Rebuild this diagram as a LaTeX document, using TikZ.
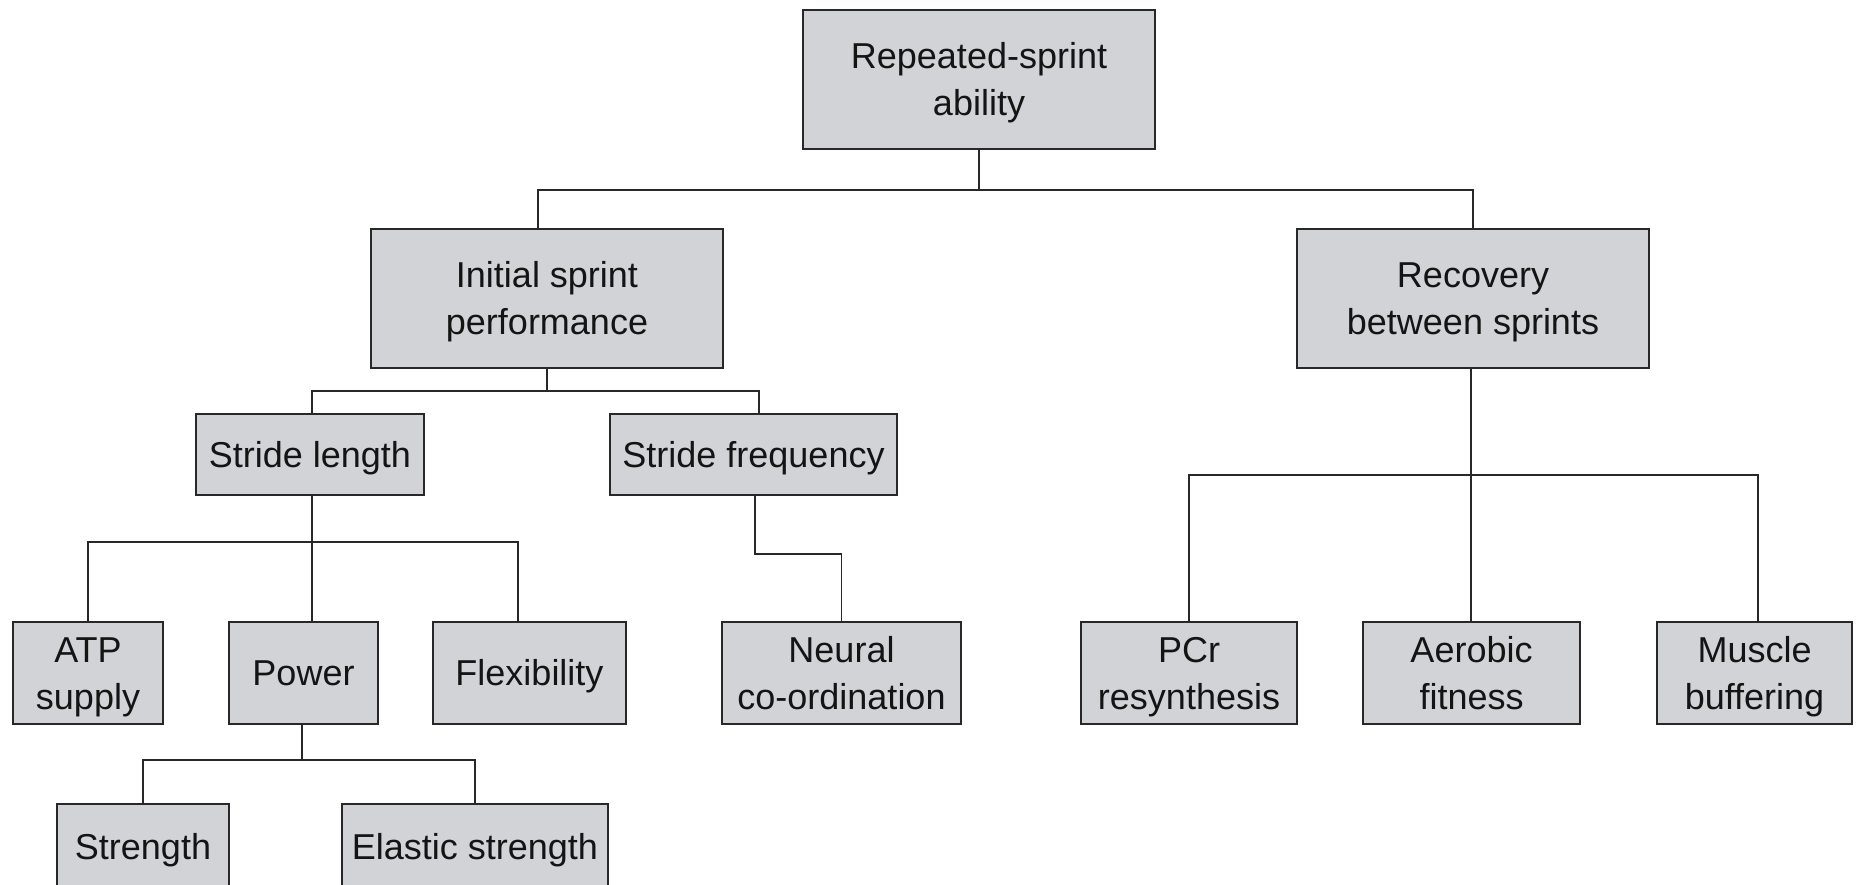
\documentclass[tikz,border=0pt]{standalone}
\usepackage{fontspec}
\setmainfont{Liberation Sans}
\usetikzlibrary{calc}
\definecolor{boxfill}{RGB}{210,211,214}
\definecolor{boxline}{RGB}{40,40,40}
\definecolor{txt}{RGB}{20,20,20}
\newcommand\tpstrut{\rule{0pt}{16.8pt}}
\newcommand\btstrut{\rule[-3.9pt]{0pt}{3.9pt}}
\begin{document}
\begin{tikzpicture}[x=0.5pt,y=-0.5pt,
  bx/.style={draw=boxline,fill=boxfill,line width=1.2pt,inner sep=0pt,outer sep=0pt,
    align=center,text=txt,font=\fontsize{18pt}{23.5pt}\selectfont},
  conn/.style={draw=boxline,line width=0.85pt}]
\useasboundingbox (0,0) rectangle (1856,884);
\clip (0,0) rectangle (1856,884);
\node[bx,minimum width=176pt,minimum height=69.5pt] (top) at (979,79.5) {\tpstrut Repeated-sprint\\ability\btstrut};
\node[bx,minimum width=176pt,minimum height=69.5pt] (ini) at (547,298.5) {\tpstrut Initial sprint\\performance\btstrut};
\node[bx,minimum width=176pt,minimum height=69.5pt] (rec) at (1473,298.5) {\tpstrut Recovery\\between sprints\btstrut};
\node[bx,minimum width=114pt,minimum height=40.5pt] (sl) at (310,454.5) {\tpstrut Stride length\btstrut};
\node[bx,minimum width=143.5pt,minimum height=40.5pt] (sf) at (753.5,454.5) {\tpstrut Stride frequency\btstrut};
\node[bx,minimum width=75pt,minimum height=51pt] (atp) at (88,673) {\tpstrut ATP\\supply\btstrut};
\node[bx,minimum width=74.5pt,minimum height=51pt] (pow) at (303.5,673) {\tpstrut Power\btstrut};
\node[bx,minimum width=96.5pt,minimum height=51pt] (flex) at (529.5,673) {\tpstrut Flexibility\btstrut};
\node[bx,minimum width=119.5pt,minimum height=51pt] (neu) at (841.5,673) {\tpstrut Neural\\co-ordination\btstrut};
\node[bx,minimum width=108pt,minimum height=51pt] (pcr) at (1189,673) {\tpstrut PCr\\resynthesis\btstrut};
\node[bx,minimum width=108.5pt,minimum height=51pt] (aer) at (1471.5,673) {\tpstrut Aerobic\\fitness\btstrut};
\node[bx,minimum width=97.5pt,minimum height=51pt] (mus) at (1754.5,673) {\tpstrut Muscle\\buffering\btstrut};
\node[bx,minimum width=86pt,minimum height=42.5pt] (str) at (143,846.5) {\tpstrut Strength\btstrut};
\node[bx,minimum width=133pt,minimum height=42.5pt] (ela) at (475,846.5) {\tpstrut Elastic strength\btstrut};
\coordinate (L1) at (0,190);
\coordinate (L2) at (0,391);
\coordinate (L3) at (0,542);
\coordinate (L4) at (0,554);
\coordinate (L5) at (0,475);
\coordinate (L6) at (0,760);
% level 1
\draw[conn] (top.south) -- (top.south |- L1);
\draw[conn] ([xshift=-4.5pt]ini.north) |- (top.south |- L1) -| (rec.north);
% initial sprint
\draw[conn] (ini.south) -- (ini.south |- L2);
\draw[conn] ([xshift=1pt]sl.north) |- (ini.south |- L2) -| ([xshift=2.75pt]sf.north);
% stride length
\draw[conn] ([xshift=1pt]sl.south) -- ([xshift=1pt]sl.south |- pow.north);
\draw[conn] (atp.north) |- ([xshift=1pt]sl.south |- L3) -| ([xshift=-5.75pt]flex.north);
% stride frequency
\draw[conn] ([xshift=0.75pt]sf.south) |- (neu.north |- L4) -- (neu.north);
% power
\draw[conn] ([xshift=-0.75pt]pow.south) -- ([xshift=-0.75pt]pow.south |- L6);
\draw[conn] (str.north) |- ([xshift=-0.75pt]pow.south |- L6) -| (ela.north);
% recovery
\draw[conn] ([xshift=-1pt]rec.south) -- ([xshift=-1pt]rec.south |- aer.north);
\draw[conn] (pcr.north) |- ([xshift=-1pt]rec.south |- L5) -| ([xshift=1.75pt]mus.north);
\end{tikzpicture}
\end{document}
